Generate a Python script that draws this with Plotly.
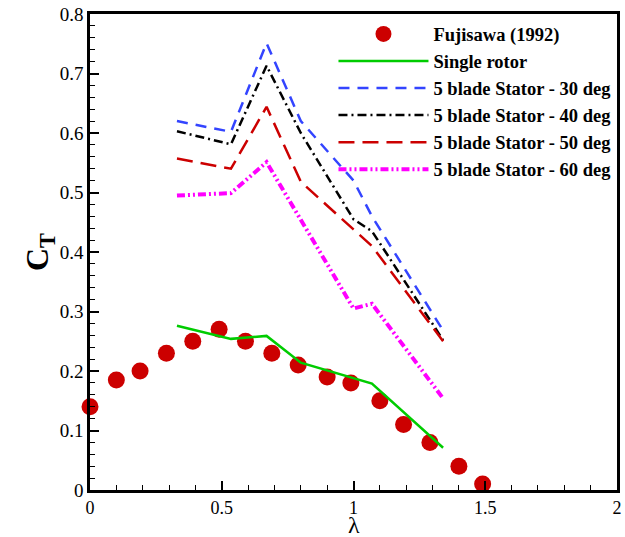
import plotly.graph_objects as go

# Experimental data (Fujisawa 1992)
exp_lambda = [0.0, 0.1, 0.19, 0.29, 0.39, 0.49, 0.59, 0.69, 0.79, 0.9, 0.99, 1.1, 1.19, 1.29, 1.4, 1.49]
exp_ct = [0.14, 0.185, 0.20, 0.23, 0.25, 0.27, 0.25, 0.23, 0.21, 0.19, 0.18, 0.15, 0.11, 0.08, 0.04, 0.01]

# Single rotor
single_lambda = [0.33, 0.535, 0.67, 0.8, 1.07, 1.34]
single_ct = [0.276, 0.254, 0.259, 0.214, 0.179, 0.071]

# Stator cases share the same tip speed ratios
stator_lambda = [0.33, 0.535, 0.67, 0.8, 1.0, 1.07, 1.34]
stator30_ct = [0.620, 0.602, 0.751, 0.620, 0.520, 0.460, 0.268]
stator40_ct = [0.603, 0.581, 0.713, 0.600, 0.455, 0.435, 0.252]
stator50_ct = [0.557, 0.540, 0.644, 0.518, 0.438, 0.410, 0.250]
stator60_ct = [0.495, 0.499, 0.551, 0.455, 0.305, 0.313, 0.154]

x_ticks = [0, 0.5, 1, 1.5, 2]
y_ticks = [0, 0.1, 0.2, 0.3, 0.4, 0.5, 0.6, 0.7, 0.8]

serif = "Liberation Serif, Times New Roman, serif"

fig = go.Figure()
fig.add_trace(go.Scatter(x=exp_lambda, y=exp_ct, mode="markers", name="<b>Fujisawa (1992)</b>",
                         marker=dict(color="#CC0000", size=17, line=dict(width=0)), cliponaxis=False))
fig.add_trace(go.Scatter(x=single_lambda, y=single_ct, mode="lines", name="<b>Single rotor</b>",
                         line=dict(color="#00CC00", width=2.5)))
fig.add_trace(go.Scatter(x=stator_lambda, y=stator30_ct, mode="lines", name="<b>5 blade Stator - 30 deg</b>",
                         line=dict(color="#3344FF", width=2.5, dash="11px,8px")))
fig.add_trace(go.Scatter(x=stator_lambda, y=stator40_ct, mode="lines", name="<b>5 blade Stator - 40 deg</b>",
                         line=dict(color="#000000", width=2.5, dash="9px,4px,2px,4px")))
fig.add_trace(go.Scatter(x=stator_lambda, y=stator50_ct, mode="lines", name="<b>5 blade Stator - 50 deg</b>",
                         line=dict(color="#CC0000", width=2.5, dash="16px,8px")))
fig.add_trace(go.Scatter(x=stator_lambda, y=stator60_ct, mode="lines", name="<b>5 blade Stator - 60 deg</b>",
                         line=dict(color="#FF00FF", width=4, dash="8px,3px,2px,3px,2px,3px")))

fig.update_layout(
    width=625, height=537,
    margin=dict(l=90, r=8, t=14, b=47),
    paper_bgcolor="white", plot_bgcolor="white",
    font=dict(family=serif, size=16, color="black"),
    showlegend=True,
    legend=dict(x=0.462, y=0.997, xanchor="left", yanchor="top", bgcolor="rgba(0,0,0,0)",
                font=dict(family=serif, size=18.5, color="black"), itemwidth=90,
                tracegroupgap=0),
    annotations=[dict(text="λ", xref="paper", yref="paper", x=0.5, y=-0.073,
                      xanchor="center", yanchor="middle", showarrow=False,
                      font=dict(family=serif, size=24, color="black"))],
)
fig.update_xaxes(
    range=[0, 2], tickvals=x_ticks, ticktext=[str(v) for v in x_ticks],
    showgrid=False, zeroline=False, automargin=False,
    showline=True, linecolor="black", linewidth=2.5, mirror=True,
    ticks="inside", ticklen=9, tickwidth=2, tickcolor="black",
    minor=dict(dtick=0.1, ticks="inside", ticklen=5, tickwidth=1, tickcolor="black", showgrid=False),
    tickfont=dict(family=serif, size=18),
)
fig.update_yaxes(
    range=[0, 0.8], tickvals=y_ticks, ticktext=[("%g" % v) for v in y_ticks],
    showgrid=False, zeroline=False, automargin=False,
    showline=True, linecolor="black", linewidth=2.5, mirror=True,
    ticks="inside", ticklen=9, tickwidth=2, tickcolor="black",
    minor=dict(dtick=0.02, ticks="inside", ticklen=5, tickwidth=1, tickcolor="black", showgrid=False),
    tickfont=dict(family=serif, size=19),
    title=dict(text="<b>C<sub>T</sub></b>", font=dict(family=serif, size=32), standoff=0),
)

fig.write_html("out.html")
